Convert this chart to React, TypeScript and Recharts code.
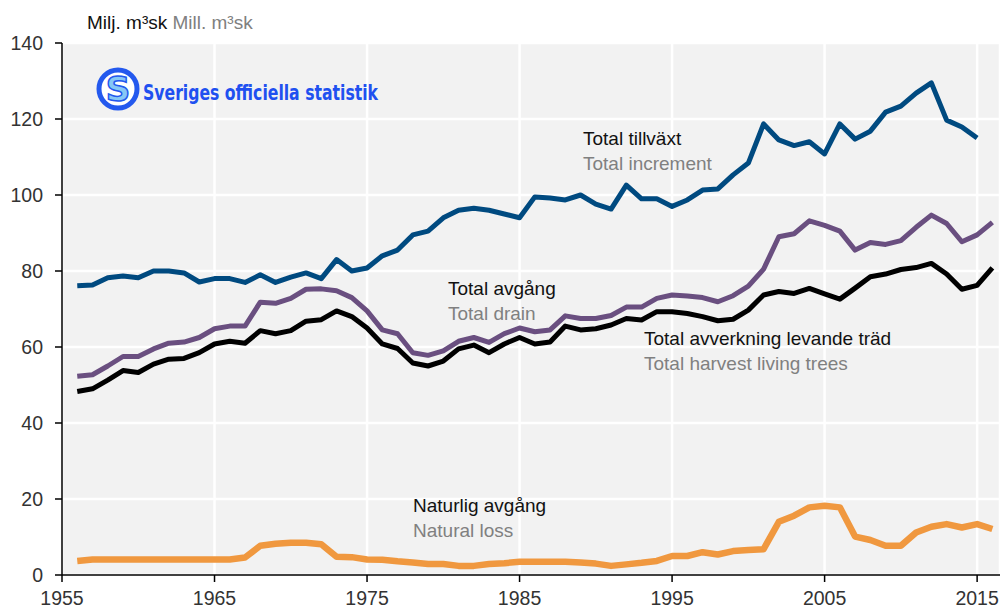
import { LineChart, Line, XAxis, YAxis, CartesianGrid } from "recharts";

const years = [
  1956, 1957, 1958, 1959, 1960, 1961, 1962, 1963, 1964, 1965, 1966, 1967, 1968, 1969, 1970,
  1971, 1972, 1973, 1974, 1975, 1976, 1977, 1978, 1979, 1980, 1981, 1982, 1983, 1984, 1985,
  1986, 1987, 1988, 1989, 1990, 1991, 1992, 1993, 1994, 1995, 1996, 1997, 1998, 1999, 2000,
  2001, 2002, 2003, 2004, 2005, 2006, 2007, 2008, 2009, 2010, 2011, 2012, 2013, 2014, 2015, 2016,
];

// Total tillväxt (ends 2015)
const increment = [
  76.1, 76.3, 78.2, 78.7, 78.2, 80, 80, 79.5, 77.1, 78, 78, 77, 79, 77, 78.4,
  79.5, 78, 83, 80, 80.8, 84, 85.5, 89.5, 90.5, 94, 96, 96.5, 96, 95, 94,
  99.5, 99.2, 98.7, 100, 97.6, 96.3, 102.6, 99, 99, 97, 98.7, 101.3, 101.6, 105.3, 108.4,
  118.7, 114.5, 113, 114, 110.8, 118.7, 114.7, 116.8, 121.8, 123.4, 126.8, 129.5, 119.7, 117.9, 115, null,
];

// Total avgång
const drain = [
  52.3, 52.7, 55, 57.5, 57.5, 59.5, 61, 61.3, 62.5, 64.8, 65.5, 65.5, 71.8, 71.5, 72.8,
  75.2, 75.3, 74.8, 73, 69.5, 64.5, 63.5, 58.5, 57.8, 59, 61.5, 62.5, 61.2, 63.5, 65,
  64, 64.5, 68.2, 67.5, 67.5, 68.3, 70.5, 70.5, 72.8, 73.7, 73.4, 73, 71.9, 73.5, 76,
  80.5, 89, 89.8, 93.2, 92, 90.5, 85.5, 87.5, 87, 88, 91.5, 94.7, 92.5, 87.7, 89.5, 92.8,
];

// Total avverkning levande träd
const harvest = [
  48.3, 49, 51.3, 53.8, 53.3, 55.5, 56.8, 57, 58.5, 60.8, 61.5, 61, 64.3, 63.5, 64.3,
  66.8, 67.2, 69.5, 68, 65, 60.8, 59.6, 55.8, 55, 56.3, 59.5, 60.5, 58.5, 60.8, 62.5,
  60.8, 61.3, 65.5, 64.5, 64.8, 65.8, 67.5, 67.1, 69.3, 69.3, 68.8, 68, 66.9, 67.3, 69.7,
  73.7, 74.6, 74.1, 75.4, 74, 72.6, 75.5, 78.5, 79.2, 80.4, 80.9, 82, 79.2, 75.2, 76.2, 80.8,
];

// Naturlig avgång
const naturalLoss = [
  3.7, 4.1, 4.1, 4.1, 4.1, 4.1, 4.1, 4.1, 4.1, 4.1, 4.1, 4.6, 7.7, 8.2, 8.5,
  8.5, 8.1, 4.8, 4.7, 4.1, 4.0, 3.6, 3.3, 2.9, 2.9, 2.4, 2.4, 2.9, 3.1, 3.5,
  3.5, 3.5, 3.5, 3.3, 3.0, 2.4, 2.8, 3.2, 3.7, 5.0, 5.0, 6.0, 5.4, 6.3, 6.6,
  6.8, 14.0, 15.6, 17.8, 18.2, 17.8, 10.1, 9.2, 7.7, 7.7, 11.2, 12.7, 13.4, 12.5, 13.4, 12.1,
];

const xTicks = [1955, 1965, 1975, 1985, 1995, 2005, 2015];
const yTicks = [0, 20, 40, 60, 80, 100, 120, 140];

const data = years.map((year, i) => ({
  year,
  increment: increment[i],
  drain: drain[i],
  harvest: harvest[i],
  naturalLoss: naturalLoss[i],
}));

const FONT = "'Liberation Sans', Arial, Helvetica, sans-serif";
const tickStyle = { fontSize: 19.5, fill: "#333", fontFamily: FONT };

function SeriesLabel({ x, y, sv, en }: { x: number; y: number; sv: string; en: string }) {
  return (
    <g fontFamily={FONT} fontSize={19}>
      <text x={x} y={y} fill="#111">{sv}</text>
      <text x={x} y={y + 25} fill="#808080">{en}</text>
    </g>
  );
}

export default function App() {
  return (
    <div style={{ position: "absolute", left: 0, top: 0, width: 1002, height: 609, background: "#fff" }}>
      <LineChart
        width={1002}
        height={609}
        data={data}
        margin={{ top: 43, right: 2, left: 0, bottom: 0 }}
      >
        <CartesianGrid fill="#f2f2f2" stroke="#ffffff" strokeWidth={2.5} />
        <XAxis
          dataKey="year"
          type="number"
          domain={[1955, 2016.5]}
          ticks={xTicks}
          height={34}
          tick={tickStyle}
          tickSize={7}
          tickMargin={9}
          axisLine={{ stroke: "#000", strokeWidth: 1.5 }}
          tickLine={{ stroke: "#000", strokeWidth: 1.5 }}
        />
        <YAxis
          type="number"
          domain={[0, 140]}
          ticks={yTicks}
          width={62}
          tick={tickStyle}
          tickSize={7}
          tickMargin={12}
          axisLine={{ stroke: "#000", strokeWidth: 1.5 }}
          tickLine={{ stroke: "#000", strokeWidth: 1.5 }}
        />
        <Line dataKey="naturalLoss" stroke="#f0983f" strokeWidth={6.5} dot={false} isAnimationActive={false} strokeLinejoin="round" />
        <Line dataKey="harvest" stroke="#000000" strokeWidth={5} dot={false} isAnimationActive={false} strokeLinejoin="round" />
        <Line dataKey="drain" stroke="#6a4f80" strokeWidth={5} dot={false} isAnimationActive={false} strokeLinejoin="round" />
        <Line dataKey="increment" stroke="#004a80" strokeWidth={5} dot={false} isAnimationActive={false} strokeLinejoin="round" />
      </LineChart>
      <svg
        width={1002}
        height={609}
        style={{ position: "absolute", left: 0, top: 0, pointerEvents: "none" }}
      >
        <text x={87} y={29} fontFamily={FONT} fontSize={19}>
          <tspan fill="#111">Milj. m³sk</tspan>
          <tspan fill="#808080"> Mill. m³sk</tspan>
        </text>
        <g>
          <circle cx={118} cy={89} r={19} fill="#ffffff" stroke="#2459ee" strokeWidth={5} />
          <text x={118} y={101} textAnchor="middle" fontFamily="'DejaVu Sans', sans-serif" fontWeight="bold" fontSize={34} fill="#86c8f6" stroke="#2459ee" strokeWidth={1.5}>S</text>
          <text
            x={143}
            y={100}
            fontFamily="'DejaVu Sans Condensed', 'DejaVu Sans', sans-serif"
            fontWeight="bold"
            fontSize={22}
            fill="#2050f0"
            textLength={235}
            lengthAdjust="spacingAndGlyphs"
          >
            Sveriges officiella statistik
          </text>
        </g>
        <SeriesLabel x={583} y={145} sv="Total tillväxt" en="Total increment" />
        <SeriesLabel x={448} y={295} sv="Total avgång" en="Total drain" />
        <SeriesLabel x={644} y={345} sv="Total avverkning  levande träd" en="Total harvest  living trees" />
        <SeriesLabel x={413} y={512} sv="Naturlig avgång" en="Natural loss" />
      </svg>
    </div>
  );
}
